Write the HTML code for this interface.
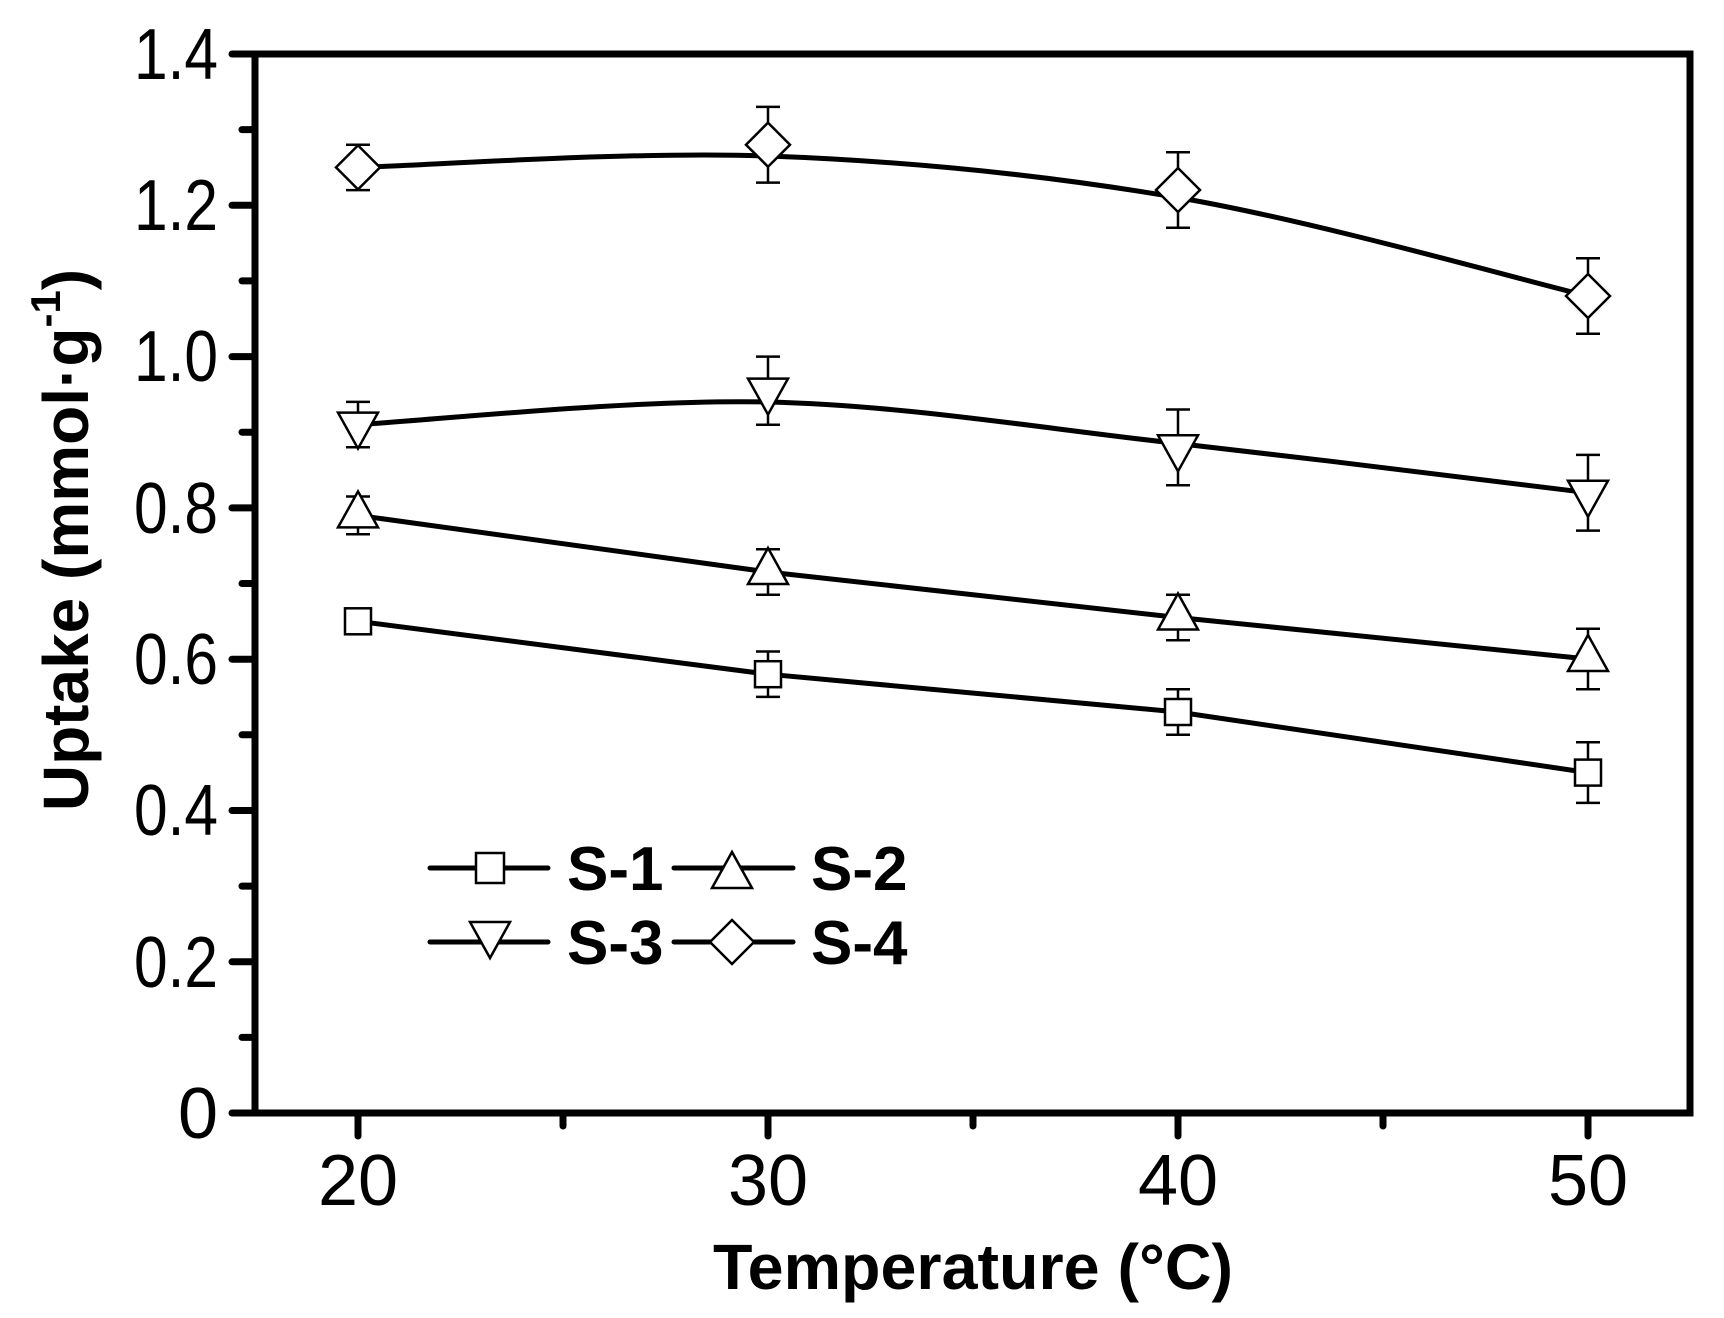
<!DOCTYPE html>
<html><head><meta charset="utf-8"><style>
html,body{margin:0;padding:0;background:#fff}
svg{display:block}
text{font-family:"Liberation Sans",Arial,sans-serif;fill:#000}
</style></head><body>
<svg width="1724" height="1318" viewBox="0 0 1724 1318" xmlns="http://www.w3.org/2000/svg">
<rect x="255" y="54" width="1435" height="1059" fill="none" stroke="#000" stroke-width="7"/>
<g stroke="#000" stroke-width="7" stroke-linecap="round">
<line x1="232" y1="54" x2="255" y2="54"/>
<line x1="232" y1="205.3" x2="255" y2="205.3"/>
<line x1="232" y1="356.6" x2="255" y2="356.6"/>
<line x1="232" y1="507.9" x2="255" y2="507.9"/>
<line x1="232" y1="659.2" x2="255" y2="659.2"/>
<line x1="232" y1="810.5" x2="255" y2="810.5"/>
<line x1="232" y1="961.8" x2="255" y2="961.8"/>
<line x1="232" y1="1113" x2="255" y2="1113"/>
<line x1="242" y1="129.6" x2="255" y2="129.6"/>
<line x1="242" y1="280.9" x2="255" y2="280.9"/>
<line x1="242" y1="432.2" x2="255" y2="432.2"/>
<line x1="242" y1="583.5" x2="255" y2="583.5"/>
<line x1="242" y1="734.8" x2="255" y2="734.8"/>
<line x1="242" y1="886.1" x2="255" y2="886.1"/>
<line x1="242" y1="1037.4" x2="255" y2="1037.4"/>
<line x1="358" y1="1113" x2="358" y2="1136"/>
<line x1="768" y1="1113" x2="768" y2="1136"/>
<line x1="1178" y1="1113" x2="1178" y2="1136"/>
<line x1="1588" y1="1113" x2="1588" y2="1136"/>
<line x1="563" y1="1113" x2="563" y2="1126"/>
<line x1="973" y1="1113" x2="973" y2="1126"/>
<line x1="1383" y1="1113" x2="1383" y2="1126"/>
</g>
<g font-size="72" text-anchor="end">
<text x="218" y="79" textLength="84" lengthAdjust="spacingAndGlyphs">1.4</text>
<text x="218" y="230" textLength="84" lengthAdjust="spacingAndGlyphs">1.2</text>
<text x="218" y="381" textLength="84" lengthAdjust="spacingAndGlyphs">1.0</text>
<text x="218" y="533" textLength="84" lengthAdjust="spacingAndGlyphs">0.8</text>
<text x="218" y="684" textLength="84" lengthAdjust="spacingAndGlyphs">0.6</text>
<text x="218" y="835" textLength="84" lengthAdjust="spacingAndGlyphs">0.4</text>
<text x="218" y="987" textLength="84" lengthAdjust="spacingAndGlyphs">0.2</text>
<text x="218" y="1138">0</text>
</g>
<g font-size="72" text-anchor="middle">
<text x="358" y="1205">20</text>
<text x="768" y="1205">30</text>
<text x="1178" y="1205">40</text>
<text x="1588" y="1205">50</text>
</g>
<text x="973" y="1289" font-size="64" font-weight="bold" text-anchor="middle" textLength="520" lengthAdjust="spacingAndGlyphs">Temperature (°C)</text>
<text transform="translate(88,540) rotate(-90)" font-size="64" font-weight="bold" text-anchor="middle">Uptake (mmol·g<tspan dy="-28" font-size="42">-1</tspan><tspan dy="28">)</tspan></text>

<g fill="none" stroke="#000" stroke-width="5">
<path d="M358,167.4 C426.3,165.5 631.3,151 768,156 C904.7,161 1041.3,174.3 1178,197.6 C1314.7,220.9 1519.7,279.6 1588,296"/>
<path d="M358,424.6 C426.3,420.8 631.3,398.9 768,402 C904.7,405.2 1041.3,428.4 1178,443.5 C1314.7,458.6 1519.7,484.5 1588,492.7"/>
<path d="M358,515.4 L768,572 L1178,617.5 L1588,659"/>
<path d="M358,621.3 L768,674.2 L1178,712 L1588,772.6"/>
</g>
<g stroke="#000" stroke-width="2.5" fill="none">
<path d="M358,144.7V190.1M346,144.7H370M346,190.1H370"/>
<path d="M768,106.9V182.6M756,106.9H780M756,182.6H780"/>
<path d="M1178,152.2V227.8M1166,152.2H1190M1166,227.8H1190"/>
<path d="M1588,258.2V333.8M1576,258.2H1600M1576,333.8H1600"/>
<path d="M358,401.9V447.3M346,401.9H370M346,447.3H370"/>
<path d="M768,356.6V424.7M756,356.6H780M756,424.7H780"/>
<path d="M1178,409.5V485.2M1166,409.5H1190M1166,485.2H1190"/>
<path d="M1588,454.9V530.6M1576,454.9H1600M1576,530.6H1600"/>
<path d="M358,496.5V534.3M346,496.5H370M346,534.3H370"/>
<path d="M768,549.3V594.7M756,549.3H780M756,594.7H780"/>
<path d="M1178,594.8V640.2M1166,594.8H1190M1166,640.2H1190"/>
<path d="M1588,628.7V689.3M1576,628.7H1600M1576,689.3H1600"/>
<path d="M358,610V632.6M346,610H370M346,632.6H370"/>
<path d="M768,651.5V696.9M756,651.5H780M756,696.9H780"/>
<path d="M1178,689.3V734.7M1166,689.3H1190M1166,734.7H1190"/>
<path d="M1588,742.3V802.9M1576,742.3H1600M1576,802.9H1600"/>
</g>
<g fill="#fff" stroke="#000" stroke-width="2.5">
<path d="M358,145.4 l22,22 l-22,22 l-22,-22z"/>
<path d="M768,122.7 l22,22 l-22,22 l-22,-22z"/>
<path d="M1178,168 l22,22 l-22,22 l-22,-22z"/>
<path d="M1588,274 l22,22 l-22,22 l-22,-22z"/>
<path d="M338,412.6 h40 l-20,36z"/>
<path d="M748,378.6 h40 l-20,36z"/>
<path d="M1158,435.3 h40 l-20,36z"/>
<path d="M1568,480.7 h40 l-20,36z"/>
<path d="M338,527.4 h40 l-20,-36z"/>
<path d="M748,584 h40 l-20,-36z"/>
<path d="M1158,629.5 h40 l-20,-36z"/>
<path d="M1568,671 h40 l-20,-36z"/>
<rect x="345" y="608.3" width="26" height="26"/>
<rect x="755" y="661.2" width="26" height="26"/>
<rect x="1165" y="699" width="26" height="26"/>
<rect x="1575" y="759.6" width="26" height="26"/>
</g>
<g stroke="#000" stroke-width="5" stroke-linecap="round">
<line x1="430" y1="868" x2="548" y2="868"/>
<line x1="674" y1="868" x2="793" y2="868"/>
<line x1="430" y1="942" x2="548" y2="942"/>
<line x1="674" y1="942" x2="793" y2="942"/>
</g>
<g fill="#fff" stroke="#000" stroke-width="2.5">
<rect x="476" y="853" width="28" height="30"/>
<path d="M712,888 h40 l-20,-36z"/>
<path d="M470,922 h40 l-20,36z"/>
<path d="M732,920 l22,22 l-22,22 l-22,-22z"/>
</g>
<g font-size="62" font-weight="bold">
<text x="567" y="890">S-1</text>
<text x="811" y="890">S-2</text>
<text x="567" y="964">S-3</text>
<text x="811" y="964">S-4</text>
</g>
</svg>
</body></html>
